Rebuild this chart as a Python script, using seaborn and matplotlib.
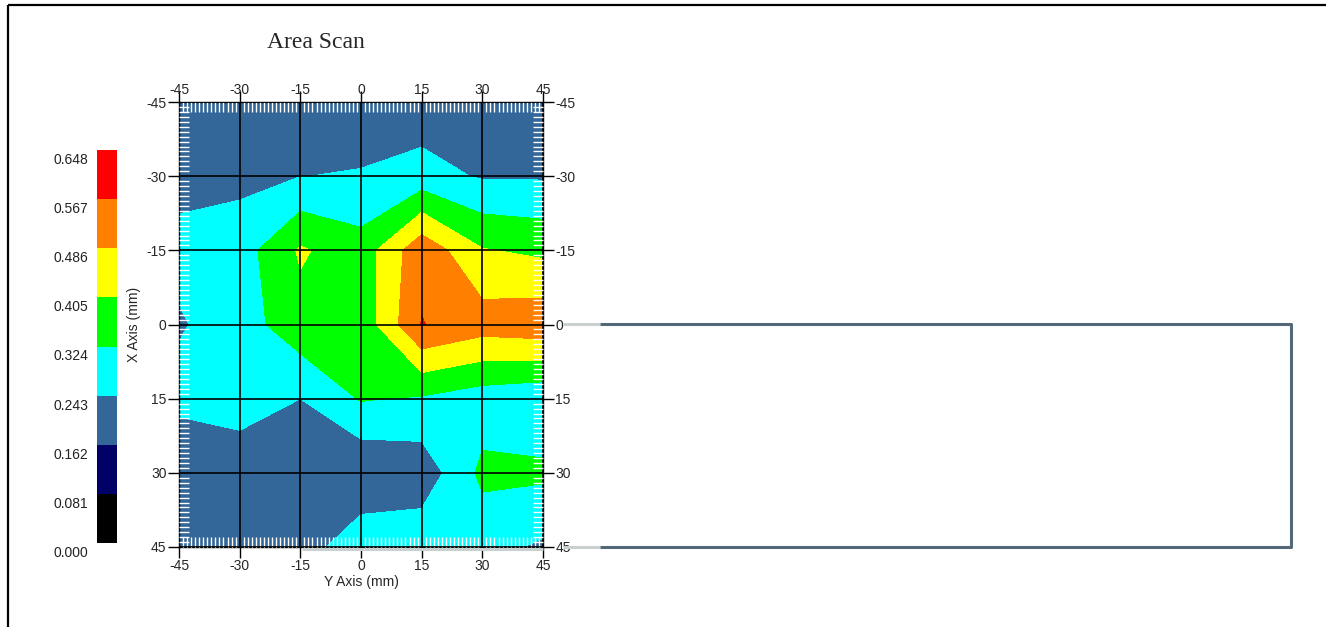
import numpy as np
import pandas as pd
import matplotlib
matplotlib.use("Agg")
import matplotlib.pyplot as plt
import seaborn as sns
from matplotlib.colors import ListedColormap, BoundaryNorm
from matplotlib.ticker import MultipleLocator
from matplotlib.lines import Line2D
from matplotlib.transforms import offset_copy, ScaledTranslation

# scan grid (mm)
y_axis = [-45, -30, -15, 0, 15, 30, 45]   # horizontal
x_axis = [-45, -30, -15, 0, 15, 30, 45]   # vertical, -45 at top

# readings, one row per X position
row_m45 = [0.200, 0.200, 0.200, 0.200, 0.196, 0.200, 0.200]
row_m30 = [0.220, 0.223, 0.242, 0.248, 0.273, 0.235, 0.235]
row_m15 = [0.265, 0.285, 0.415, 0.358, 0.543, 0.410, 0.388]
row_0 = [0.235, 0.284, 0.376, 0.350, 0.570, 0.525, 0.540]
row_15 = [0.270, 0.275, 0.243, 0.330, 0.315, 0.280, 0.260]
row_30 = [0.160, 0.200, 0.200, 0.170, 0.190, 0.343, 0.340]
row_45 = [0.200, 0.200, 0.200, 0.300, 0.300, 0.270, 0.230]

levels = [0.000, 0.081, 0.162, 0.243, 0.324, 0.405, 0.486, 0.567, 0.648]
level_colors = ["#000000", "#000066", "#336699", "#00ffff",
                "#00ff00", "#ffff00", "#ff8000", "#ff0000"]

Z = np.array([row_m45, row_m30, row_m15, row_0, row_15, row_30, row_45])

sns.set_style("white")
plt.rcParams["font.family"] = ["Liberation Sans", "DejaVu Sans"]
plt.rcParams["axes.unicode_minus"] = False

W, H = 1330, 627
fig = plt.figure(figsize=(W / 100, H / 100), dpi=100)


def fbox(x0, y0, x1, y1):
    return [x0 / W, 1 - y1 / H, (x1 - x0) / W, (y1 - y0) / H]


# ---- main contour map
ax = fig.add_axes(fbox(179, 102, 543, 547))
ax.contourf(y_axis, x_axis, Z, levels=levels, colors=level_colors)
ax.set_xlim(-45, 45)
ax.set_ylim(45, -45)
ax.set_xticks(y_axis)
ax.set_yticks(x_axis)
ax.xaxis.set_minor_locator(MultipleLocator(1))
ax.yaxis.set_minor_locator(MultipleLocator(1))
ax.grid(True, which="major", color="black", lw=1.2)
ax.set_axisbelow(False)
ax.tick_params(which="major", direction="out", length=8, width=1, color="black",
               top=True, right=True, bottom=True, left=True,
               labeltop=True, labelright=True, labelsize=10, pad=1)
ax.tick_params(which="minor", direction="in", length=7, width=1, color="white",
               top=True, right=True, bottom=True, left=True)
# top labels sit down on their ticks
for t in ax.xaxis.get_major_ticks():
    t.label2.set_transform(t.label2.get_transform()
                           + ScaledTranslation(0, -0.07, fig.dpi_scale_trans))
for s in ax.spines.values():
    s.set_color("black")
    s.set_linewidth(1)
ax.set_xlabel("Y Axis (mm)", fontsize=10, labelpad=1)
ax.set_ylabel("X Axis (mm)", fontsize=10, labelpad=4)
ax.xaxis.set_label_position("bottom")
ax.yaxis.set_label_position("left")

# ---- legend bar
cax = fig.add_axes(fbox(97, 150, 117, 543))
mids = [(levels[i] + levels[i + 1]) / 2 for i in range(len(level_colors))][::-1]
cmap = ListedColormap(level_colors)
norm = BoundaryNorm(levels, cmap.N)
sns.heatmap(pd.DataFrame({"v": mids}), ax=cax, cmap=cmap, norm=norm, cbar=False,
            xticklabels=False, yticklabels=False)
lab_tr = offset_copy(cax.transData, fig=fig, x=-9, y=-10, units="dots")
n = len(level_colors)
for k, lv in enumerate(levels):
    cax.text(0, n - k, f"{lv:.3f}", transform=lab_tr, ha="right", va="center",
             fontsize=10, color="#222222")

# ---- title
fig.text(316 / W, 1 - 43 / H, "Area Scan", family=["Liberation Serif", "DejaVu Serif"],
         fontsize=17, ha="center", va="center")


# ---- frame lines and side panel
def fline(xs, ys, color, lw):
    fig.add_artist(Line2D([x / W for x in xs], [1 - y / H for y in ys],
                          transform=fig.transFigure, color=color, lw=lw,
                          solid_capstyle="butt"))


fline([8, 1326], [5, 5], "black", 1.6)
fline([8, 8], [5, 627], "black", 1.6)
fline([302, 543], [549, 549], "#c8d0d0", 2.2)
fline([563, 600], [324, 324], "#c8d0d0", 2.2)
fline([563, 600], [547, 547], "#c8d0d0", 2.2)
fline([600, 1291, 1291, 600], [324, 324, 547, 547], "#536878", 2.2)

fig.savefig("out.png", dpi=100)
